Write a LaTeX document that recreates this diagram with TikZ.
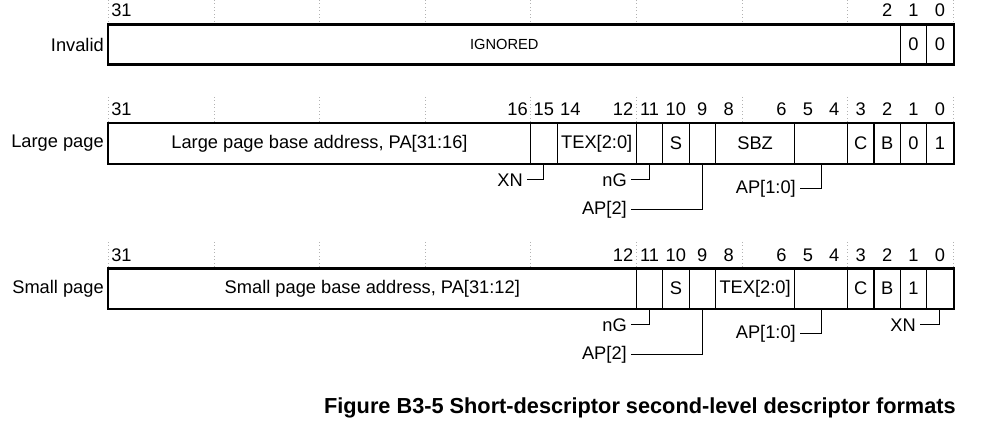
\documentclass[tikz,border=0pt]{standalone}
\usepackage{fontspec}
\setmainfont{Liberation Sans}
\newcommand\bitw{26.4}
\newcommand\mkfield[6]{% name, hi, lo, center y, height(px), text
  \pgfmathsetmacro\fx{108.3+(31-#2+(#2-#3+1)/2)*\bitw}%
  \pgfmathsetmacro\fw{(#2-#3+1)*\bitw*0.75}%
  \pgfmathsetmacro\fh{#5*0.75}%
  \node[fieldbox, minimum width=\fw pt, minimum height=\fh pt] (#1) at (\fx,#4) {#6};%
}
\newcommand\mknum[3]{% name, bit, y
  \pgfmathsetmacro\nx{108.3+(31.5-#2)*\bitw}%
  \node[lbl] (#1) at (\nx,#3) {#2};%
}
\begin{document}
\begin{tikzpicture}[x=0.75pt,y=-0.75pt,
  lbl/.style={font=\fontsize{13.7}{16}\selectfont, inner sep=0pt},
  fieldbox/.style={draw, line width=0.9pt, inner sep=0pt, font=\fontsize{13.7}{16}\selectfont},
  outer/.style={draw, line width=1.5pt},
  gridl/.style={draw=gray!60, dotted, line width=0.6pt},
  callout/.style={draw, line width=0.75pt},
  clabel/.style={font=\fontsize{13.7}{16}\selectfont, inner ysep=0pt, inner xsep=3pt, anchor=east},
  caption/.style={font=\bfseries\fontsize{16.3}{19}\selectfont, inner sep=0pt, anchor=east}]
\useasboundingbox (0,0) rectangle (989,423);

% dotted grid lines
\foreach \k in {0,...,8}{
  \draw[gridl] ({108.3+\k*4*\bitw},0) -- ({108.3+\k*4*\bitw},25);
  \draw[gridl] ({108.3+\k*4*\bitw},97) -- ({108.3+\k*4*\bitw},123.3);
  \draw[gridl] ({108.3+\k*4*\bitw},242) -- ({108.3+\k*4*\bitw},269);
}

% ---------- Row 1: Invalid ----------
\node[lbl, anchor=east] (rinv) at (104,44.5) {Invalid};
\mkfield{I31}{31}{2}{44.5}{39}{\fontsize{11}{13}\selectfont IGNORED}
\mkfield{I1}{1}{1}{44.5}{39}{0}
\mkfield{I0}{0}{0}{44.5}{39}{0}
\draw[outer] (I31.north west) rectangle (I0.south east);
\mknum{ia31}{31}{10.5}
\mknum{ia2}{2}{10.5}
\mknum{ia1}{1}{10.5}
\mknum{ia0}{0}{10.5}

% ---------- Row 2: Large page ----------
\node[lbl, anchor=east] (rlarge) at (104,143.3) {Large page};
\mkfield{L31}{31}{16}{143.3}{40}{Large page base address, PA[31:16]}
\mkfield{L15}{15}{15}{143.3}{40}{}
\mkfield{L14}{14}{12}{143.3}{40}{TEX[2:0]}
\mkfield{L11}{11}{11}{143.3}{40}{}
\mkfield{L10}{10}{10}{143.3}{40}{S}
\mkfield{L9}{9}{9}{143.3}{40}{}
\mkfield{L8}{8}{6}{143.3}{40}{SBZ}
\mkfield{L5}{5}{4}{143.3}{40}{}
\mkfield{L3}{3}{3}{143.3}{40}{C}
\mkfield{L2}{2}{2}{143.3}{40}{B}
\mkfield{L1}{1}{1}{143.3}{40}{0}
\mkfield{L0}{0}{0}{143.3}{40}{1}
\draw[outer] (L31.north west) rectangle (L0.south east);
\foreach \b in {31,16,15,14,12,11,10,9,8,6,5,4,3,2,1,0}{\mknum{la\b}{\b}{109.5}}

\node[clabel] (lxn) at (527,180) {XN};
\node[clabel] (lng) at (631,180) {nG};
\node[clabel] (lap2) at (631,210) {AP[2]};
\node[clabel] (lap10) at (800,189) {AP[1:0]};
\draw[callout] (lxn.east) -| (L15.south);
\draw[callout] (lng.east) -| (L11.south);
\draw[callout] (lap2.east) -| (L9.south);
\draw[callout] (lap10.east) -| (L5.south);

% ---------- Row 3: Small page ----------
\node[lbl, anchor=east] (rsmall) at (104,288.7) {Small page};
\mkfield{S31}{31}{12}{288.7}{39.3}{Small page base address, PA[31:12]}
\mkfield{S11}{11}{11}{288.7}{39.3}{}
\mkfield{S10}{10}{10}{288.7}{39.3}{S}
\mkfield{S9}{9}{9}{288.7}{39.3}{}
\mkfield{S8}{8}{6}{288.7}{39.3}{TEX[2:0]}
\mkfield{S5}{5}{4}{288.7}{39.3}{}
\mkfield{S3}{3}{3}{288.7}{39.3}{C}
\mkfield{S2}{2}{2}{288.7}{39.3}{B}
\mkfield{S1}{1}{1}{288.7}{39.3}{1}
\mkfield{S0}{0}{0}{288.7}{39.3}{}
\draw[outer] (S31.north west) rectangle (S0.south east);
\foreach \b in {31,12,11,10,9,8,6,5,4,3,2,1,0}{\mknum{sa\b}{\b}{255}}

\node[clabel] (sng) at (631,325) {nG};
\node[clabel] (sap2) at (631,355) {AP[2]};
\node[clabel] (sap10) at (800,334) {AP[1:0]};
\node[clabel] (sxn) at (920,325) {XN};
\draw[callout] (sng.east) -| (S11.south);
\draw[callout] (sap2.east) -| (S9.south);
\draw[callout] (sap10.east) -| (S5.south);
\draw[callout] (sxn.east) -| (S0.south);

% caption
\node[caption] (cap) at (956,408) {Figure B3-5 Short-descriptor second-level descriptor formats};
\end{tikzpicture}
\end{document}
